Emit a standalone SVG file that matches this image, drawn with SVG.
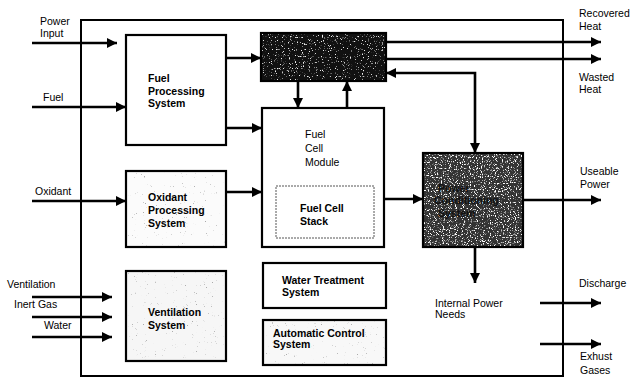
<svg xmlns="http://www.w3.org/2000/svg" width="634" height="381" viewBox="0 0 634 381">
<style>
  text { font-family: "Liberation Sans", Arial, sans-serif; font-size: 10.5px; fill: #000; }
  .b { font-weight: bold; }
  .box { stroke: #000; stroke-width: 2.2; }
  .wire { stroke: #000; stroke-width: 2.6; fill: none; }
  .frame { stroke: #000; stroke-width: 2; fill: none; }
</style>
<defs>
  <marker id="ah" viewBox="0 0 10 10" refX="10" refY="5" markerWidth="11" markerHeight="10" markerUnits="userSpaceOnUse" orient="auto-start-reverse">
    <path d="M0,0 L10,5 L0,10 z" fill="#000"/>
  </marker>
  <filter id="spkW" x="0" y="0" width="100%" height="100%">
    <feTurbulence type="fractalNoise" baseFrequency="0.85" numOctaves="2" seed="4" result="n"/>
    <feColorMatrix in="n" type="matrix" values="0 0 0 0 1  0 0 0 0 1  0 0 0 0 1  7 0 0 0 -3.9"/>
    <feComposite in2="SourceGraphic" operator="in"/>
  </filter>
  <filter id="spkH" x="0" y="0" width="100%" height="100%">
    <feTurbulence type="fractalNoise" baseFrequency="0.85" numOctaves="2" seed="9" result="n"/>
    <feColorMatrix in="n" type="matrix" values="0 0 0 0 0.85  0 0 0 0 0.85  0 0 0 0 0.85  8 0 0 0 -5.0"/>
    <feComposite in2="SourceGraphic" operator="in"/>
  </filter>
  <filter id="spkD" x="0" y="0" width="100%" height="100%">
    <feTurbulence type="fractalNoise" baseFrequency="0.9" numOctaves="2" seed="7" result="n"/>
    <feColorMatrix in="n" type="matrix" values="0 0 0 0 0.4  0 0 0 0 0.4  0 0 0 0 0.4  9 0 0 0 -6.5"/>
    <feComposite in2="SourceGraphic" operator="in"/>
  </filter>
</defs>

<rect x="0" y="0" width="634" height="381" fill="#fff"/>

<!-- outer frame -->
<rect class="frame" x="81" y="20" width="482" height="356"/>

<g id="fuel-processing">
  <rect class="box" x="126" y="35" width="100" height="110" fill="#fff"/>
  <text class="b" x="148" y="82">Fuel</text>
  <text class="b" x="148" y="95">Processing</text>
  <text class="b" x="148" y="107">System</text>
</g>

<g id="heat-system">
  <rect class="box" x="261" y="33" width="125" height="48" fill="#111"/>
  <rect x="262" y="34" width="123" height="46" fill="#fff" filter="url(#spkH)"/>
</g>

<g id="fuel-cell-module">
  <rect class="box" x="262" y="108" width="122" height="139" fill="#fff"/>
  <text x="305" y="138">Fuel</text>
  <text x="305" y="152">Cell</text>
  <text x="305" y="166">Module</text>
</g>

<g id="fuel-cell-stack">
  <rect x="276" y="186" width="98" height="52" fill="#fff" stroke="#555" stroke-width="1" stroke-dasharray="2 1"/>
  <text class="b" x="300" y="212">Fuel Cell</text>
  <text class="b" x="300" y="225">Stack</text>
</g>

<g id="oxidant-processing">
  <rect class="box" x="126" y="171" width="100" height="76" fill="#fbfbfb"/>
  <rect x="127" y="172" width="98" height="74" fill="#fff" filter="url(#spkD)"/>
  <text class="b" x="148" y="201">Oxidant</text>
  <text class="b" x="148" y="214">Processing</text>
  <text class="b" x="148" y="227">System</text>
</g>

<g id="power-conditioning">
  <rect class="box" x="423" y="153" width="100" height="94" fill="#333"/>
  <rect x="424" y="154" width="98" height="92" fill="#fff" filter="url(#spkW)"/>
  <text class="b" x="438" y="192" style="fill:#111">Power</text>
  <text class="b" x="434" y="204" style="fill:#111">Conditioning</text>
  <text class="b" x="438" y="217" style="fill:#111">System</text>
</g>

<g id="ventilation-system">
  <rect class="box" x="126" y="271" width="100" height="90" fill="#f6f6f6"/>
  <rect x="127" y="272" width="98" height="88" fill="#fff" filter="url(#spkD)"/>
  <text class="b" x="148" y="316">Ventilation</text>
  <text class="b" x="148" y="329">System</text>
</g>

<g id="water-treatment">
  <rect class="box" x="263" y="263" width="123" height="45" fill="#fff"/>
  <text class="b" x="282" y="284">Water Treatment</text>
  <text class="b" x="282" y="296">System</text>
</g>

<g id="automatic-control">
  <rect class="box" x="263" y="320" width="123" height="45" fill="#f8f8f8"/>
  <rect x="264" y="321" width="121" height="43" fill="#fff" filter="url(#spkD)"/>
  <text class="b" x="273" y="337">Automatic Control</text>
  <text class="b" x="273" y="348">System</text>
</g>

<g id="connectors">
  <!-- inputs -->
  <line class="wire" x1="32" y1="43" x2="117" y2="43" marker-end="url(#ah)"/>
  <line class="wire" x1="32" y1="107" x2="126" y2="107" marker-end="url(#ah)"/>
  <line class="wire" x1="32" y1="201" x2="126" y2="201" marker-end="url(#ah)"/>
  <line class="wire" x1="32" y1="297" x2="112" y2="297" marker-end="url(#ah)"/>
  <line class="wire" x1="32" y1="317" x2="112" y2="317" marker-end="url(#ah)"/>
  <line class="wire" x1="32" y1="337" x2="112" y2="337" marker-end="url(#ah)"/>
  <!-- fuel processing outputs -->
  <line class="wire" x1="226" y1="58" x2="261" y2="58" marker-end="url(#ah)"/>
  <line class="wire" x1="226" y1="128" x2="262" y2="128" marker-end="url(#ah)"/>
  <!-- oxidant to module -->
  <line class="wire" x1="226" y1="192" x2="262" y2="192" marker-end="url(#ah)"/>
  <!-- heat box <-> module -->
  <line class="wire" x1="298" y1="81" x2="298" y2="108" marker-end="url(#ah)"/>
  <line class="wire" x1="347" y1="108" x2="347" y2="81" marker-end="url(#ah)"/>
  <!-- heat outputs -->
  <line class="wire" x1="386" y1="42" x2="601" y2="42" marker-end="url(#ah)"/>
  <line class="wire" x1="386" y1="59" x2="601" y2="59" marker-end="url(#ah)"/>
  <!-- power conditioning <-> heat box -->
  <polyline class="wire" points="386,73 475,73 475,153" marker-start="url(#ah)" marker-end="url(#ah)"/>
  <!-- module to power conditioning -->
  <line class="wire" x1="384" y1="199" x2="423" y2="199" marker-end="url(#ah)"/>
  <!-- useable power -->
  <line class="wire" x1="523" y1="200" x2="601" y2="200" marker-end="url(#ah)"/>
  <!-- internal power needs -->
  <line class="wire" x1="475" y1="247" x2="475" y2="283" marker-end="url(#ah)"/>
  <!-- discharge / exhaust -->
  <line class="wire" x1="540" y1="303" x2="601" y2="303" marker-end="url(#ah)"/>
  <line class="wire" x1="540" y1="344" x2="601" y2="344" marker-end="url(#ah)"/>
</g>

<g id="labels">
  <text x="40" y="25">Power</text>
  <text x="40" y="37">Input</text>
  <text x="43" y="101">Fuel</text>
  <text x="35" y="195">Oxidant</text>
  <text x="7" y="288">Ventilation</text>
  <text x="14" y="308">Inert Gas</text>
  <text x="44" y="329">Water</text>
  <text x="579" y="17">Recovered</text>
  <text x="579" y="30">Heat</text>
  <text x="579" y="81">Wasted</text>
  <text x="579" y="93">Heat</text>
  <text x="580" y="175">Useable</text>
  <text x="580" y="188">Power</text>
  <text x="435" y="307">Internal Power</text>
  <text x="435" y="318">Needs</text>
  <text x="579" y="287">Discharge</text>
  <text x="580" y="360">Exhust</text>
  <text x="580" y="374">Gases</text>
</g>
</svg>
